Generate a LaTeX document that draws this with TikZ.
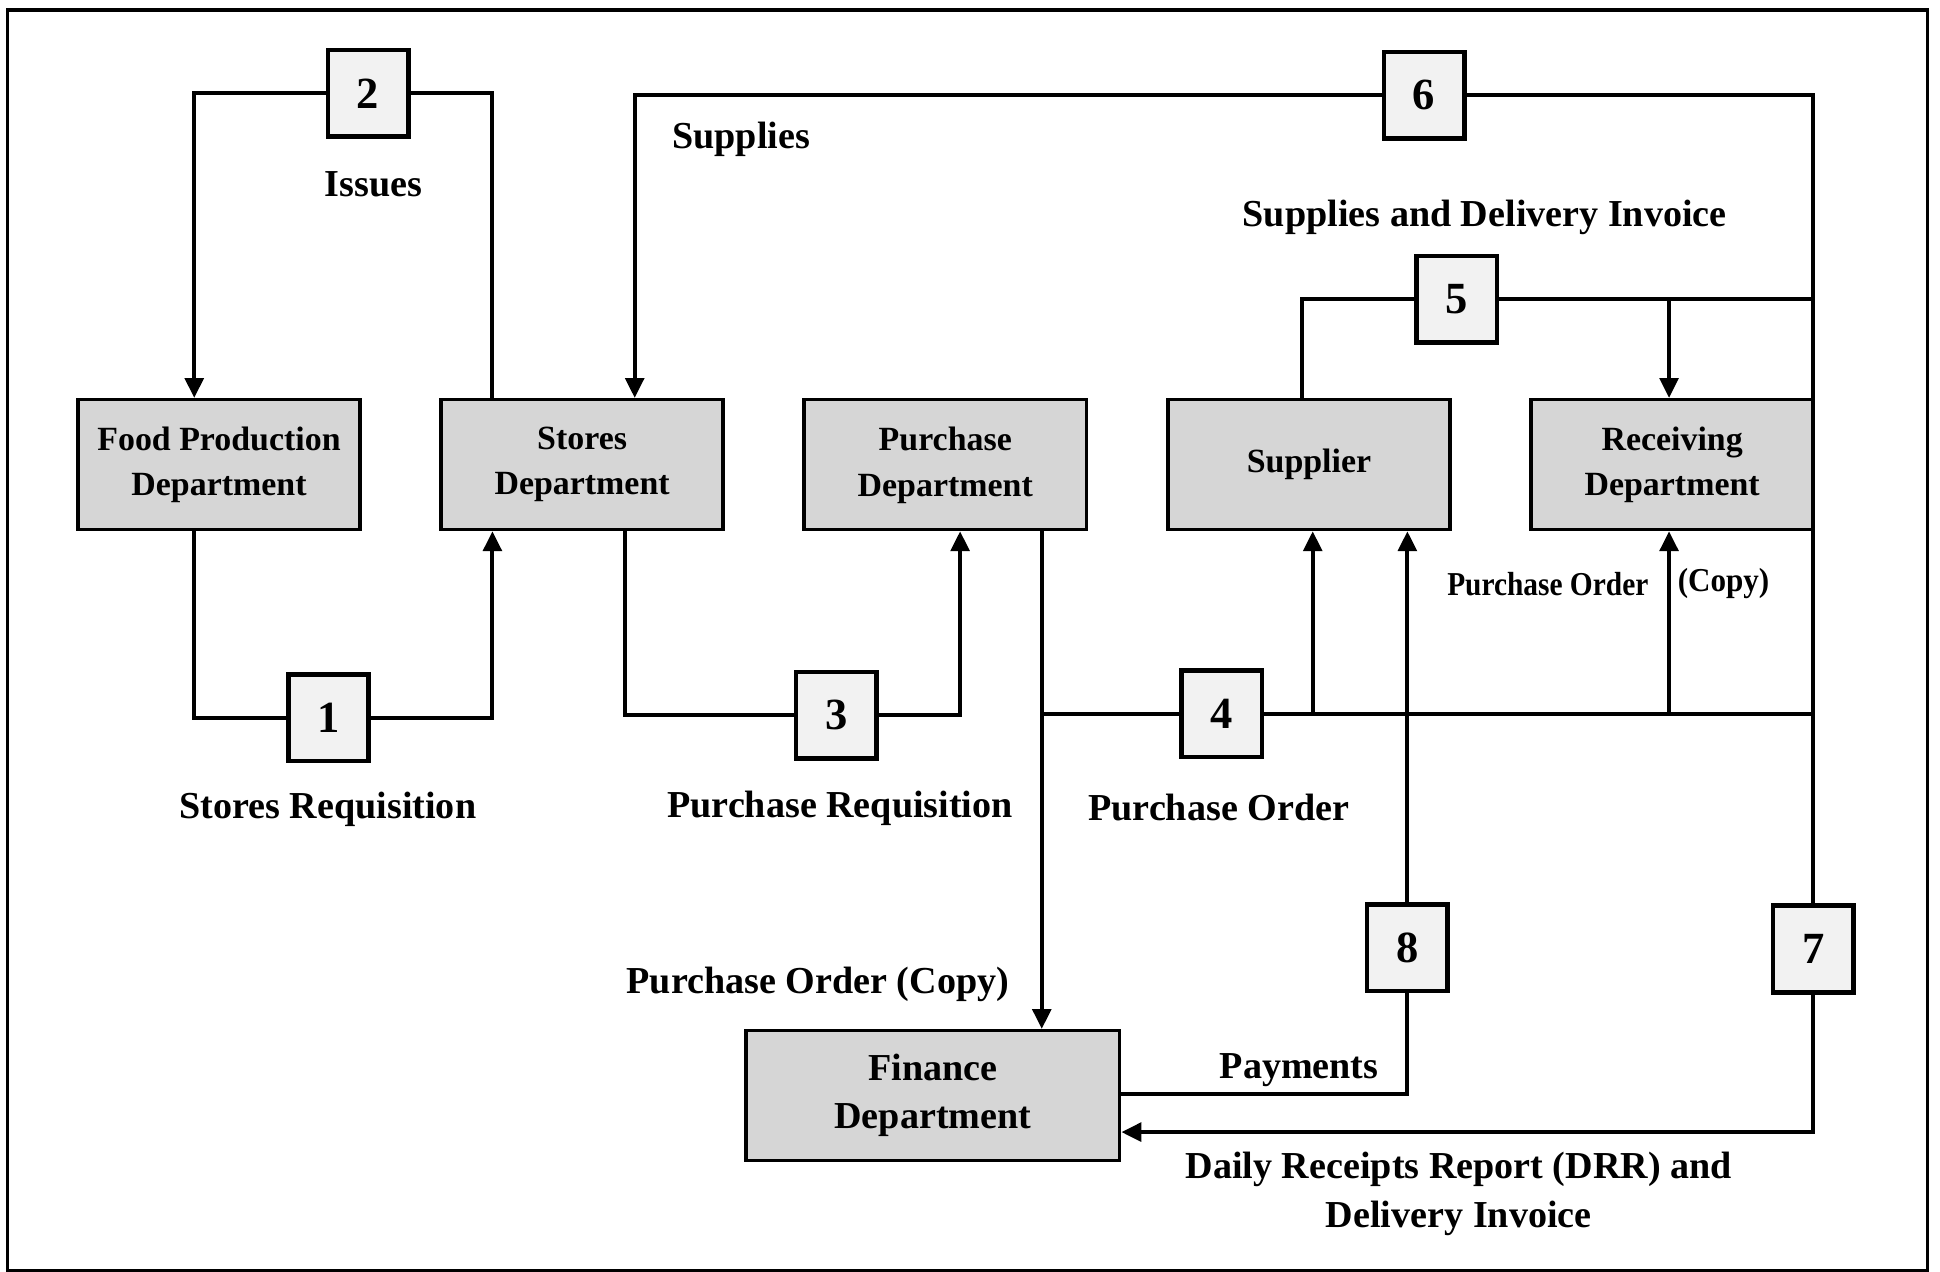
\documentclass[tikz,border=0pt]{standalone}
\usepackage{fontspec}
\usepackage{graphicx}
\setmainfont{Liberation Serif}
\usetikzlibrary{arrows.meta}
\definecolor{deptgray}{HTML}{D6D6D6}
\definecolor{stepgray}{HTML}{F2F2F2}
\begin{document}
\begin{tikzpicture}[x=0.5pt,y=-0.5pt,
  line width=1.6pt,
  dept/.style={draw, fill=deptgray, line width=1.4pt, minimum width=114pt, minimum height=52.5pt,
    inner sep=0pt, align=center, font=\fontsize{13.7}{18}\selectfont\bfseries},
  stepbox/.style={draw, fill=stepgray, line width=1.8pt, minimum width=32.5pt, minimum height=35pt,
    inner sep=0pt, font=\fontsize{18}{20}\selectfont\bfseries},
  lbl/.style={inner sep=0pt, align=center, font=\fontsize{15.4}{20}\selectfont\bfseries},
  arr/.style={-{Triangle[length=8pt,width=7.5pt]}}]
\useasboundingbox (0,0) rectangle (1568,1028);
\draw[line width=1.3pt] (6,8) rectangle (1558,1027);

% departments
\node[dept] (food) at (177,375.5) {Food Production\\Department};
\node[dept] (stores) at (470.5,375.5) {Stores\\Department};
\node[dept] (purchase) at (764,375.5) {\raisebox{8.5pt}{\begin{tabular}{@{}c@{}}Purchase\\[0.5pt]Department\end{tabular}}};
\node[dept] (supplier) at (1058,375.5) {Supplier};
\node[dept] (recv) at (1351.5,375.5) {Receiving\\Department};
\node[dept, minimum width=151pt, font=\fontsize{15.4}{19.5}\selectfont\bfseries] (finance) at (754,885.5) {Finance\\Department};

% numbered steps
\node[stepbox] (n1) at (265.5,580) {1};
\node[stepbox] (n2) at (297.5,75.5) {2};
\node[stepbox] (n3) at (676,578) {3};
\node[stepbox] (n4) at (987.5,577) {4};
\node[stepbox] (n5) at (1177.5,242) {5};
\node[stepbox] (n6) at (1151,77) {6};
\node[stepbox] (n7) at (1465.5,767) {7};
\node[stepbox] (n8) at (1137.5,766) {8};

% helper columns and rows for connector bends
\coordinate (xa) at (157,0);
\coordinate (xb) at (398,0);
\coordinate (xd) at (505,0);
\coordinate (xk) at (513,0);
\coordinate (xe) at (776,0);
\coordinate (xf) at (842,0);
\coordinate (xl) at (1052,0);
\coordinate (xg) at (1061,0);
\coordinate (xi) at (1349,0);
\coordinate (yPay) at (0,884);
\coordinate (yDrr) at (0,915);

% 1: stores requisition
\draw (food.south -| xa) |- (n1.west);
\draw[arr] (n1.east) -| (stores.south -| xb);
% 2: issues
\draw (stores.north -| xb) |- (n2.east);
\draw[arr] (n2.west) -| (food.north -| xa);
% 3: purchase requisition
\draw (stores.south -| xd) |- (n3.west);
\draw[arr] (n3.east) -| (purchase.south -| xe);
% 4: purchase order and copies
\draw[arr] (purchase.south -| xf) -- (finance.north -| xf);
\draw (n4.west) -- (n4.west -| xf);
\draw (n4.east) -- (n4.east -| n7.north);
\draw[arr] (n4.east -| xg) -- (supplier.south -| xg);
\draw[arr] (n4.east -| xi) -- (recv.south -| xi);
% 5: supplies and delivery invoice
\draw (supplier.north -| xl) |- (n5.west);
\draw (n5.east) -- (n5.east -| n7.north);
\draw[arr] (n5.east -| xi) -- (recv.north -| xi);
% 6: supplies to stores, trunk down to 7
\draw (n6.east) -| (n7.north);
\draw[arr] (n6.west) -| (stores.north -| xk);
% 7: daily receipts report
\draw[arr] (n7.south) |- (finance.east |- yDrr);
% 8: payments
\draw (finance.east |- yPay) -| (n8.south);
\draw[arr] (n8.north) -- (supplier.south -| n8.north);

% flow labels
\node[lbl] (tIssues) at (302,149) {Issues};
\node[lbl] (tSupplies) at (599,113) {Supplies};
\node[lbl] (tSDI) at (1200,176) {Supplies and Delivery Invoice};
\node[lbl] (tSR) at (265,654) {Stores Requisition};
\node[lbl] (tPR) at (679,653) {Purchase Requisition};
\node[lbl] (tPO) at (985,653) {Purchase Order};
\node[lbl, font=\fontsize{13.5}{20}\selectfont\bfseries] (tPOsmall) at (1251,472) {\scalebox{0.88}[1]{Purchase Order}};
\node[lbl, font=\fontsize{13.5}{20}\selectfont\bfseries] (tCopy) at (1393,472) {\scalebox{0.93}[1]{(Copy)}};
\node[lbl] (tPOC) at (661,796) {Purchase Order (Copy)};
\node[lbl] (tPay) at (1050,865) {Payments};
\node[lbl] (tDRR1) at (1179,945) {Daily Receipts Report (DRR) and};
\node[lbl] (tDRR2) at (1179,985) {Delivery Invoice};
\end{tikzpicture}
\end{document}
